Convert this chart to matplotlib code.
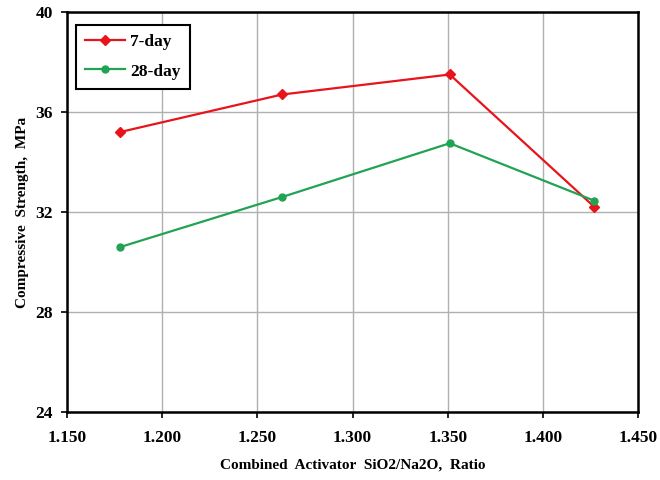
import matplotlib.pyplot as plt

# Data
ratio = [1.178, 1.263, 1.351, 1.427]
day7 = [35.2, 36.7, 37.5, 32.2]
day28 = [30.6, 32.6, 34.75, 32.45]

plt.rcParams['font.family'] = ['Liberation Serif', 'DejaVu Serif']
plt.rcParams['font.weight'] = 'bold'

fig = plt.figure(figsize=(6.6, 4.8), dpi=100)
ax = fig.add_axes([0.1015, 0.1417, 0.8655, 0.8333])

ax.plot(ratio, day7, color='#e8141c', marker='D', markersize=5, linewidth=1.6, label='7-day')
ax.plot(ratio, day28, color='#22a354', marker='o', markersize=5, linewidth=1.6, label='28-day')

ax.set_xlim(1.15, 1.45)
ax.set_ylim(24, 40)
ax.set_xticks([1.15, 1.2, 1.25, 1.3, 1.35, 1.4, 1.45])
ax.set_xticklabels(['1.150', '1.200', '1.250', '1.300', '1.350', '1.400', '1.450'])
ax.set_yticks([24, 28, 32, 36, 40])
ax.tick_params(labelsize=12.5, direction='out', length=4, width=1.2)
ax.tick_params(axis='x', pad=9)
ax.tick_params(axis='y', pad=6)
ax.grid(True, color='#b0b0b0', linewidth=1)
ax.set_axisbelow(True)
for s in ax.spines.values():
    s.set_linewidth(1.8)

ax.set_xlabel('Combined  Activator  SiO2/Na2O,  Ratio', fontsize=11, fontweight='bold', labelpad=9)
ax.set_ylabel('Compressive  Strength,  MPa', fontsize=11, fontweight='bold', labelpad=5)

leg = ax.legend(loc='upper left', fontsize=12.5, fancybox=False, framealpha=1,
                edgecolor='black', borderpad=0.55, labelspacing=0.75, handlelength=2.3,
                handletextpad=0.3, bbox_to_anchor=(0.0, 0.99))
leg.get_frame().set_linewidth(1.5)

fig.savefig('out.png', dpi=100)
